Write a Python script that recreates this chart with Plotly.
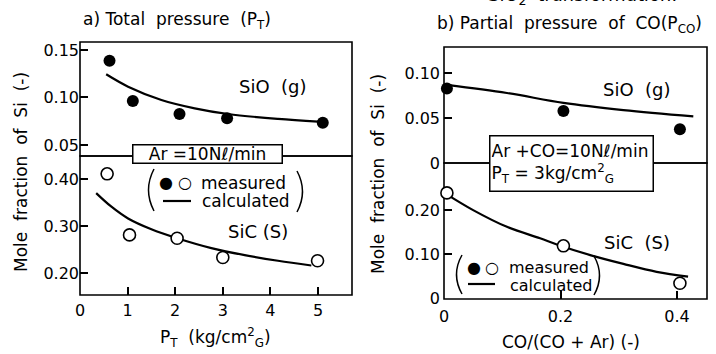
import plotly.graph_objects as go

W, H = 716, 354
FONT = "DejaVu Sans"

# ---------------- data ----------------
# a) Total pressure
pt_meas_sio = [0.62, 1.11, 2.09, 3.09, 5.10]
sio_meas_a = [0.1387, 0.0963, 0.0826, 0.0781, 0.0735]
pt_calc_sio = [0.55, 1.01, 1.71, 2.41, 3.11, 4.16, 5.0]
sio_calc_a = [0.1244, 0.1114, 0.0974, 0.0886, 0.0826, 0.0774, 0.0745]

pt_meas_sic = [0.57, 1.04, 2.04, 3.00, 4.99]
sic_meas_a = [0.411, 0.281, 0.274, 0.233, 0.226]
pt_calc_sic = [0.34, 0.66, 1.01, 1.50, 2.04, 2.76, 3.46, 4.16, 4.86]
sic_calc_a = [0.370, 0.341, 0.316, 0.293, 0.274, 0.253, 0.238, 0.226, 0.216]

# b) Partial pressure of CO
co_meas = [0.005, 0.205, 0.405]
sio_meas_b = [0.083, 0.058, 0.0375]
co_calc_sio = [0.005, 0.108, 0.205, 0.308, 0.428]
sio_calc_b = [0.087, 0.078, 0.067, 0.059, 0.052]

sic_meas_b = [0.239, 0.119, 0.034]
co_calc_sic = [0.002, 0.050, 0.108, 0.165, 0.196, 0.251, 0.308, 0.365, 0.419]
sic_calc_b = [0.238, 0.200, 0.162, 0.136, 0.121, 0.098, 0.078, 0.060, 0.049]

# tick labels
xa_ticks = [0, 1, 2, 3, 4, 5]
xa_text = ["0", "1", "2", "3", "4", "5"]
ya_top_ticks = [0.05, 0.10, 0.15]
ya_top_text = ["0.05", "0.10", "0.15"]
ya_bot_ticks = [0.20, 0.30, 0.40]
ya_bot_text = ["0.20", "0.30", "0.40"]
xb_ticks = [0, 0.2, 0.4]
xb_text = ["0", "0.2", "0.4"]
yb_top_ticks = [0, 0.05, 0.10]
yb_top_text = ["0", "0.05", "0.10"]
yb_bot_ticks = [0, 0.10, 0.20]
yb_bot_text = ["0", "0.10", "0.20"]


def fx(p):
    return p / W


def fy(p):
    return 1 - p / H


fig = go.Figure()

filled = dict(symbol="circle", size=12, color="black", line=dict(width=0))
hollow = dict(symbol="circle", size=12, color="white", line=dict(width=1.6, color="black"))
calc_line = dict(color="black", width=2.2, shape="spline")

# panel a
fig.add_trace(go.Scatter(x=pt_calc_sio, y=sio_calc_a, mode="lines", line=calc_line, xaxis="x", yaxis="y"))
fig.add_trace(go.Scatter(x=pt_meas_sio, y=sio_meas_a, mode="markers", marker=filled, xaxis="x", yaxis="y", cliponaxis=False))
fig.add_trace(go.Scatter(x=pt_calc_sic, y=sic_calc_a, mode="lines", line=calc_line, xaxis="x", yaxis="y2"))
fig.add_trace(go.Scatter(x=pt_meas_sic, y=sic_meas_a, mode="markers", marker=hollow, xaxis="x", yaxis="y2", cliponaxis=False))
# panel b
fig.add_trace(go.Scatter(x=co_calc_sio, y=sio_calc_b, mode="lines", line=calc_line, xaxis="x2", yaxis="y3"))
fig.add_trace(go.Scatter(x=co_meas, y=sio_meas_b, mode="markers", marker=filled, xaxis="x2", yaxis="y3", cliponaxis=False))
fig.add_trace(go.Scatter(x=co_calc_sic, y=sic_calc_b, mode="lines", line=calc_line, xaxis="x2", yaxis="y4"))
fig.add_trace(go.Scatter(x=co_meas, y=sic_meas_b, mode="markers", marker=hollow, xaxis="x2", yaxis="y4", cliponaxis=False))

tickfont = dict(family=FONT, size=16, color="black")
common = dict(showgrid=False, zeroline=False, showline=False, ticks="inside", ticklen=8,
              tickwidth=1.5, tickcolor="black", tickfont=tickfont, fixedrange=True, automargin=False)

fig.update_layout(
    width=W, height=H, margin=dict(l=0, r=0, t=0, b=0, pad=0, autoexpand=False),
    paper_bgcolor="white", plot_bgcolor="white", showlegend=False,
    xaxis=dict(domain=[fx(80), fx(352)], range=[0, 5.714], anchor="y2",
               tickvals=xa_ticks, ticktext=xa_text, ticklabelstandoff=4, **common),
    yaxis=dict(domain=[fy(156), fy(42)], range=[0.0384, 0.1584], anchor="x",
               tickvals=ya_top_ticks, ticktext=ya_top_text, **common),
    yaxis2=dict(domain=[fy(295), fy(156)], range=[0.1532, 0.4489], anchor="x",
                tickvals=ya_bot_ticks, ticktext=ya_bot_text, **common),
    xaxis2=dict(domain=[fx(444), fx(707)], range=[0, 0.4515], anchor="y4",
                tickvals=xb_ticks, ticktext=xb_text, ticklabelstandoff=6, **common),
    yaxis3=dict(domain=[fy(163), fy(47)], range=[0, 0.1293], anchor="x2",
                tickvals=yb_top_ticks, ticktext=yb_top_text, ticklabelstandoff=3, **common),
    yaxis4=dict(domain=[fy(299), fy(163)], range=[-0.0016, 0.3068], anchor="x2",
                tickvals=yb_bot_ticks, ticktext=yb_bot_text, ticklabelstandoff=3, **common),
)

# frames
for xr, yr in [("x", "y"), ("x", "y2"), ("x2", "y3"), ("x2", "y4")]:
    fig.add_shape(type="rect", xref=xr + " domain", yref=yr + " domain", x0=0, x1=1, y0=0, y1=1,
                  line=dict(color="black", width=1.6), layer="below")

# legend key lines
for x0, x1, y in [(163, 191, 201), (468, 495, 284)]:
    fig.add_shape(type="line", xref="paper", yref="paper", x0=fx(x0), x1=fx(x1), y0=fy(y), y1=fy(y),
                  line=dict(color="black", width=2.2))


# thin parentheses around the legend keys (curved paths)
def paren(x, top, bot, bulge):
    mid = (top + bot) / 2
    path = f"M {fx(x)},{fy(top)} Q {fx(x + bulge)},{fy(mid)} {fx(x)},{fy(bot)}"
    fig.add_shape(type="path", xref="paper", yref="paper", path=path,
                  line=dict(color="black", width=1.5))


paren(154, 169, 211, -11)
paren(297, 171, 212, 11)
paren(462, 255, 294, -11)
paren(594, 256, 295, 11)


def ann(text, x, y, size=17, xanchor="center", yanchor="middle", **kw):
    fig.add_annotation(text=text, x=fx(x), y=fy(y), xref="paper", yref="paper",
                       xanchor=xanchor, yanchor=yanchor, showarrow=False,
                       font=dict(family=kw.pop("family", FONT), size=size, color="black"), **kw)


# titles
ann("a) Total  pressure  (P<sub>T</sub>)", 177, 21)
ann("b) Partial  pressure  of  CO(P<sub>CO</sub>)", 569, 25)
ann("SiO<sub>2</sub>  <i>transformation.</i>", 583, -4, size=18)

# axis titles
ann("Mole  fraction  of  Si  (-)", 21, 172, textangle=-90)
ann("Mole  fraction  of  Si  (-)", 378, 174, textangle=-90)
ann("P<sub>T</sub>  (kg/cm<sup>2</sup><sub>G</sub>)", 215, 337)
ann("CO/(CO + Ar) (-)", 571, 342)

# curve labels
ann("SiO  (g)", 273, 86, size=18)
ann("SiC (S)", 258, 232, size=18)
ann("SiO  (g)", 637, 89, size=18)
ann("SiC  (S)", 637, 242, size=18)

# condition boxes
ann("Ar =10Nℓ/min", 207, 154, size=17, width=148, height=17, bgcolor="white",
    bordercolor="black", borderwidth=1.5, borderpad=0)
ann("Ar +CO=10Nℓ/min<br>P<sub>T</sub> = 3kg/cm<sup>2</sup><sub>G</sub>", 571, 164, size=17,
    width=160, height=52, align="left", bgcolor="white", bordercolor="black", borderwidth=1.5, borderpad=1)

# legends
for (size, xb, xo, xt, ym, yc) in [
    (17, 166, 185, 199, 183, 201),
    (16, 474, 492, 507, 267, 285),
]:
    ann("●", xb, ym, size=16)
    ann("○", xo, ym, size=16)
    ann("measured", xt, ym, size=size, xanchor="left")
    ann("calculated", xt + 1, yc, size=size, xanchor="left")

fig.write_html("out.html", config={"displayModeBar": False},
               post_script="document.body.style.margin='0';document.body.style.padding='0';")
